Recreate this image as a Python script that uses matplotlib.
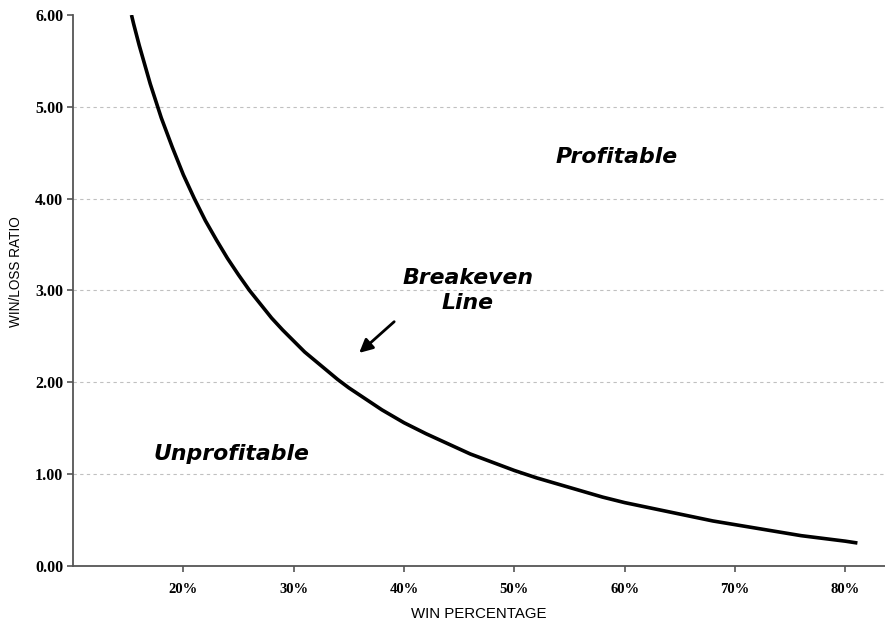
import matplotlib
matplotlib.use("Agg")
import matplotlib.pyplot as plt

# Data: win percentage (%) vs breakeven win/loss ratio
win_pct = [15.3, 15.5, 16, 17, 18, 19, 20, 21, 22, 23, 24, 25, 26, 27, 28, 29, 30,
           31, 32, 33, 34, 35, 36, 37, 38, 39, 40, 42, 44, 46, 48, 50, 52, 54,
           56, 58, 60, 62, 64, 66, 68, 70, 72, 74, 76, 78, 80, 81.1]
ratio = [6.00, 5.90, 5.67, 5.25, 4.88, 4.56, 4.26, 4.00, 3.76, 3.55, 3.35, 3.17,
         3.00, 2.85, 2.70, 2.57, 2.45, 2.33, 2.23, 2.13, 2.03, 1.94, 1.86, 1.78,
         1.70, 1.63, 1.56, 1.44, 1.33, 1.22, 1.13, 1.04, 0.96, 0.89, 0.82, 0.75,
         0.69, 0.64, 0.59, 0.54, 0.49, 0.45, 0.41, 0.37, 0.33, 0.30, 0.27, 0.25]

x_ticks = [20, 30, 40, 50, 60, 70, 80]
x_tick_labels = ["20%", "30%", "40%", "50%", "60%", "70%", "80%"]
y_ticks = [0, 1, 2, 3, 4, 5, 6]
y_tick_labels = ["0.00", "1.00", "2.00", "3.00", "4.00", "5.00", "6.00"]

fig = plt.figure(figsize=(8.85, 6.24), dpi=100)
ax = fig.add_axes([0.0825, 0.093, 0.9175, 0.883])

for y in y_ticks[1:-1]:
    ax.axhline(y, color="#c0c0c0", linestyle=(0, (3, 3)), linewidth=0.8, zorder=0)

ax.plot(win_pct, ratio, color="black", linewidth=2.6, solid_capstyle="butt",
        solid_joinstyle="round", zorder=3)

ax.set_xlim(10, 83.6)
ax.set_ylim(0, 6)
ax.set_xticks(x_ticks)
ax.set_xticklabels(x_tick_labels)
ax.set_yticks(y_ticks)
ax.set_yticklabels(y_tick_labels)

for side in ["top", "right"]:
    ax.spines[side].set_visible(False)
for side in ["left", "bottom"]:
    ax.spines[side].set_color("#555555")
    ax.spines[side].set_linewidth(1.3)

ax.tick_params(axis="both", direction="out", color="#555555", width=1.2, length=4)
ax.tick_params(axis="x", pad=8)
ax.tick_params(axis="y", pad=3)
for lab in ax.get_xticklabels():
    lab.set_fontfamily("Liberation Serif")
    lab.set_fontweight("bold")
    lab.set_fontsize(10.5)
for lab in ax.get_yticklabels():
    lab.set_fontfamily("Liberation Serif")
    lab.set_fontweight("bold")
    lab.set_fontsize(11.5)

ax.set_xlabel("WIN PERCENTAGE", fontfamily="Liberation Sans", fontsize=10.8, labelpad=8)
ax.set_ylabel("WIN/LOSS RATIO", fontfamily="Liberation Sans", fontsize=9.8)
ax.yaxis.set_label_coords(-0.061, 0.535)

txt = dict(fontfamily="DejaVu Sans", fontweight="bold", fontstyle="italic",
           fontsize=15.8, ha="center", va="center", color="black")
ax.text(59.3, 4.45, "Profitable", **txt)
ax.text(24.4, 1.22, "Unprofitable", **txt)
ax.text(45.8, 3.0, "Breakeven\nLine", linespacing=1.3, **txt)
ax.annotate("", xy=(35.75, 2.30), xytext=(39.3, 2.68),
            arrowprops=dict(arrowstyle="-|>,head_length=0.8,head_width=0.4",
                            color="black", linewidth=2))

fig.savefig("out.png", dpi=100)
